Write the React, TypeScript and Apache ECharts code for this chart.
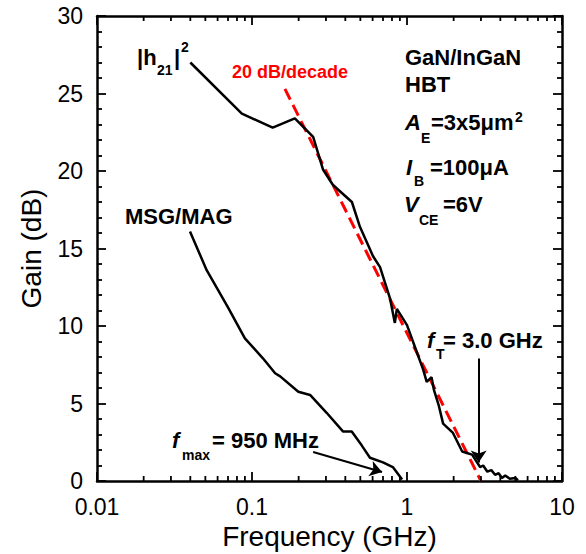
import React, { useEffect, useRef } from 'react';
import * as echarts from 'echarts';

// |h21|^2 data (GHz, dB)
const h21Freq = [0.040, 0.086, 0.136, 0.189, 0.248, 0.287, 0.333, 0.441, 0.497, 0.604, 0.67, 0.776, 0.835, 0.86, 1.0, 1.13, 1.27, 1.34, 1.44, 1.49, 1.60, 1.71, 1.98, 2.27, 2.63, 2.96, 3.1, 3.3, 3.5, 3.7, 3.9, 4.1, 4.3, 4.6, 5.0, 5.2];
const h21Gain = [27.0, 23.7, 22.8, 23.4, 22.2, 20.1, 19.1, 18.0, 16.4, 14.5, 13.8, 11.8, 10.2, 11.1, 10.06, 8.6, 7.2, 6.4, 6.7, 5.9, 4.9, 3.7, 3.1, 1.9, 1.7, 0.9, 1.0, 0.6, 0.7, 0.4, 0.5, 0.2, 0.35, 0.15, 0.2, 0.05];

// MSG/MAG data
const msgFreq = [0.0398, 0.051, 0.07, 0.090, 0.118, 0.141, 0.152, 0.199, 0.237, 0.303, 0.386, 0.44, 0.51, 0.577, 0.70, 0.81, 0.93];
const msgGain = [16.1, 13.6, 11.2, 9.2, 7.9, 6.95, 6.75, 5.76, 5.55, 4.4, 3.2, 3.2, 2.3, 1.5, 1.2, 0.9, 0.1];

// 20 dB/decade fit line
const slopeFreq = [0.163, 3.0];
const slopeGain = [25.3, 0];

// axis ticks
const xMinorTicks = [0.02, 0.03, 0.04, 0.05, 0.06, 0.07, 0.08, 0.09, 0.2, 0.3, 0.4, 0.5, 0.6, 0.7, 0.8, 0.9, 2, 3, 4, 5, 6, 7, 8, 9];

// annotation arrows [freq, gain]
const fmaxArrow = [[0.248, 1.87], [0.69, 0.58]];
const ftArrow = [[2.9, 7.9], [2.9, 1.2]];

const FONT = "'Liberation Sans', Arial, sans-serif";

type T = { text: string; x: number; y: number; size: number; italic?: boolean; color?: string };
const labels: T[] = [
  { text: '|h', x: 137, y: 57, size: 22 },
  { text: '21', x: 157, y: 70, size: 14 },
  { text: '|', x: 174, y: 57, size: 22 },
  { text: '2', x: 181, y: 47, size: 14 },
  { text: '20 dB/decade', x: 232, y: 72, size: 18, color: '#ff0000' },
  { text: 'GaN/InGaN', x: 405, y: 57, size: 22 },
  { text: 'HBT', x: 405, y: 84, size: 22 },
  { text: 'A', x: 405, y: 122, size: 22, italic: true },
  { text: 'E', x: 421, y: 138, size: 14 },
  { text: '=3x5\u03bcm', x: 431, y: 122, size: 22 },
  { text: '2', x: 515, y: 117, size: 14 },
  { text: 'I', x: 406, y: 167, size: 22, italic: true },
  { text: 'B', x: 414, y: 181, size: 14 },
  { text: '=100\u03bcA', x: 430, y: 167, size: 22 },
  { text: 'V', x: 404, y: 204, size: 22, italic: true },
  { text: 'CE', x: 419, y: 220, size: 14 },
  { text: '=6V', x: 443, y: 204, size: 22 },
  { text: 'MSG/MAG', x: 125, y: 216, size: 22 },
  { text: 'f', x: 172, y: 440, size: 22, italic: true },
  { text: 'max', x: 182, y: 455, size: 14 },
  { text: '= 950 MHz', x: 212, y: 440, size: 22 },
  { text: 'f', x: 427, y: 340, size: 22, italic: true },
  { text: 'T', x: 436, y: 354, size: 14 },
  { text: '= 3.0 GHz', x: 443, y: 340, size: 22 },
];

export default function App() {
  const ref = useRef<HTMLDivElement>(null);
  useEffect(() => {
    const chart = echarts.init(ref.current!, null, { renderer: 'svg' });
    const axisLine = { show: true, onZero: false, lineStyle: { color: '#000', width: 2.5 } };
    const axisTick = { show: true, inside: true, length: 9, lineStyle: { color: '#000', width: 1.8 } };
    const minorTick = { show: true, splitNumber: 5, length: 5, lineStyle: { color: '#000', width: 1.8 } };
    const zip = (a: number[], b: number[]) => a.map((v, i) => [v, b[i]]);

    const option: any = {
      animation: false,
      backgroundColor: '#fff',
      grid: { left: 97, right: 24, top: 16, bottom: 73, containLabel: false, outerBoundsMode: 'none' },
      xAxis: [
        {
          type: 'log', logBase: 10, min: 0.01, max: 10, position: 'bottom',
          name: 'Frequency (GHz)', nameLocation: 'middle', nameGap: 35,
          nameTextStyle: { fontFamily: FONT, fontSize: 28, color: '#000' },
          axisLine, axisTick,
          axisLabel: {
            fontFamily: FONT, fontSize: 23, color: '#000', margin: 14,
            formatter: (v: number) => String(Number(Number(v).toPrecision(2))),
          },
          splitLine: { show: false },
        },
        {
          type: 'log', logBase: 10, min: 0.01, max: 10, position: 'top',
          axisLine, axisTick, axisLabel: { show: false }, splitLine: { show: false },
        },
      ],
      yAxis: [
        {
          type: 'value', min: 0, max: 30, interval: 5, position: 'left',
          name: 'Gain (dB)', nameLocation: 'middle', nameGap: 52,
          nameTextStyle: { fontFamily: FONT, fontSize: 28, color: '#000' },
          axisLine, axisTick, minorTick,
          axisLabel: { fontFamily: FONT, fontSize: 23, color: '#000', margin: 14 },
          splitLine: { show: false }, minorSplitLine: { show: false },
        },
        {
          type: 'value', min: 0, max: 30, interval: 5, position: 'right',
          axisLine, axisTick, minorTick, axisLabel: { show: false },
          splitLine: { show: false }, minorSplitLine: { show: false },
        },
      ],
      series: [
        {
          type: 'custom', xAxisIndex: 0, yAxisIndex: 0, silent: true, clip: false, z: 5,
          data: xMinorTicks.map((v) => [v, 0]),
          renderItem: (params: any, api: any) => {
            const b = api.coord([api.value(0), 0]);
            const t = api.coord([api.value(0), 30]);
            return {
              type: 'group',
              children: [
                { type: 'line', shape: { x1: b[0], y1: b[1], x2: b[0], y2: b[1] - 5 }, style: { stroke: '#000', lineWidth: 1.8 } },
                { type: 'line', shape: { x1: t[0], y1: t[1], x2: t[0], y2: t[1] + 5 }, style: { stroke: '#000', lineWidth: 1.8 } },
              ],
            };
          },
        },
        {
          name: 'slope', type: 'line', data: zip(slopeFreq, slopeGain), showSymbol: false, silent: true, z: 3,
          lineStyle: { color: '#ff0000', width: 3, type: [12, 6] },
        },
        {
          name: 'h21', type: 'line', data: zip(h21Freq, h21Gain), showSymbol: false, silent: true, z: 4,
          lineStyle: { color: '#000', width: 2.5 },
        },
        {
          name: 'MSG/MAG', type: 'line', data: zip(msgFreq, msgGain), showSymbol: false, silent: true, z: 4,
          lineStyle: { color: '#000', width: 2.5 },
        },
        {
          name: 'arrows', type: 'line', data: [], silent: true, z: 6,
          markLine: {
            silent: true, symbol: ['none', 'arrow'], symbolSize: 12,
            label: { show: false },
            lineStyle: { color: '#000', width: 2, type: 'solid' },
            emphasis: { disabled: true },
            data: [
              [{ coord: fmaxArrow[0] }, { coord: fmaxArrow[1] }],
              [{ coord: ftArrow[0] }, { coord: ftArrow[1] }],
            ],
          },
        },
      ],
      graphic: {
        elements: labels.map((l) => ({
          type: 'text', x: l.x, y: l.y, silent: true, z: 100,
          style: {
            text: l.text,
            fill: l.color || '#000',
            font: `${l.italic ? 'italic ' : ''}bold ${l.size}px ${FONT}`,
            textAlign: 'left', textVerticalAlign: 'middle',
            align: 'left', verticalAlign: 'middle',
          },
        })),
      },
    };
    chart.setOption(option);
    return () => chart.dispose();
  }, []);
  return <div ref={ref} style={{ position: 'fixed', left: 0, top: 0, width: 586, height: 554, background: '#fff' }} />;
}
